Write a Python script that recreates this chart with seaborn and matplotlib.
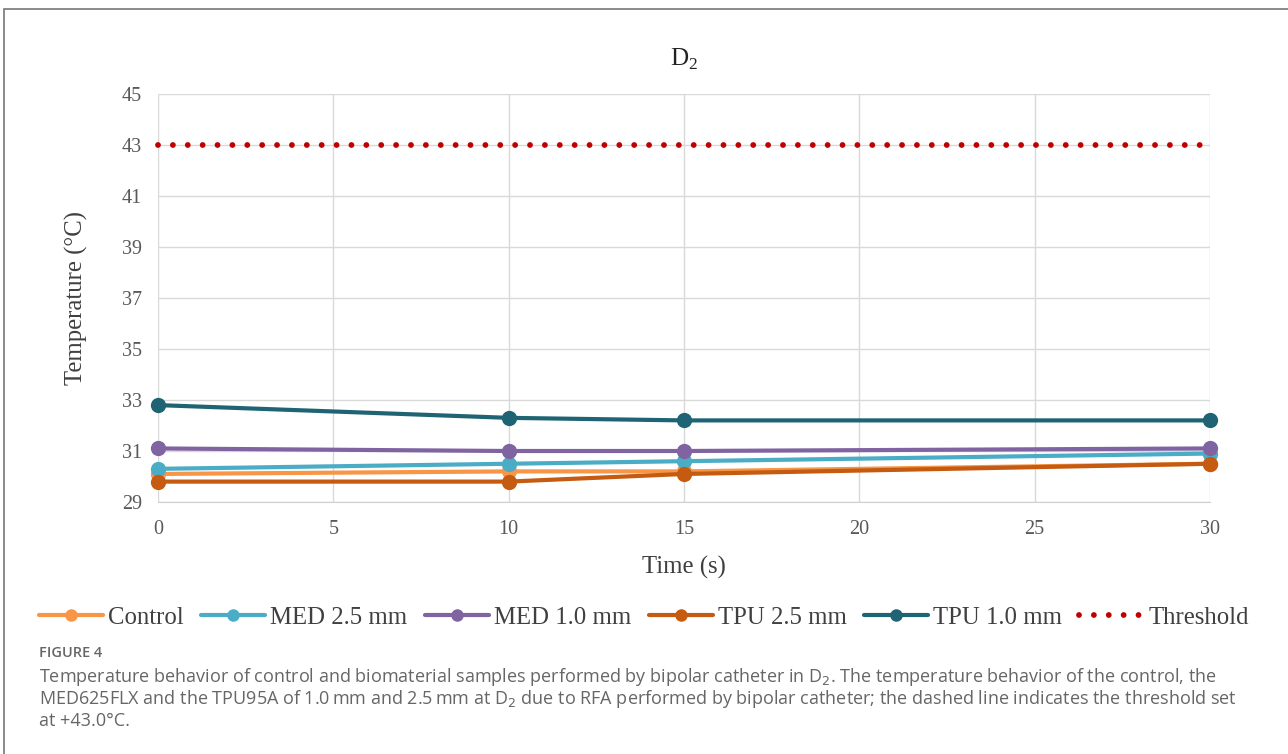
import pandas as pd
import matplotlib.pyplot as plt
from matplotlib.lines import Line2D
from matplotlib.patches import Rectangle
import seaborn as sns

# данные
time_s = [0, 10, 15, 30]
control = [30.1, 30.2, 30.2, 30.5]
med_25 = [30.3, 30.5, 30.6, 30.9]
med_10 = [31.1, 31.0, 31.0, 31.1]
tpu_25 = [29.8, 29.8, 30.1, 30.5]
tpu_10 = [32.8, 32.3, 32.2, 32.2]
threshold_x = [0, 30]
threshold_y = [43.0, 43.0]

series_names = ["Control", "MED 2.5 mm", "MED 1.0 mm", "TPU 2.5 mm", "TPU 1.0 mm"]
series_values = [control, med_25, med_10, tpu_25, tpu_10]
colors = ["#F79646", "#4BACC6", "#8064A2", "#C55A11", "#1F6474"]
thr_color = "#C00000"

df = pd.concat(
    [pd.DataFrame({"time": time_s, "temp": v, "series": n}) for n, v in zip(series_names, series_values)],
    ignore_index=True,
)

sns.set_style("whitegrid")
plt.rcParams["font.family"] = ["Liberation Serif", "DejaVu Serif"]
plt.rcParams["mathtext.fontset"] = "custom"
plt.rcParams["mathtext.rm"] = "Liberation Serif"

fig = plt.figure(figsize=(12.88, 7.54), dpi=100)
ax = fig.add_axes([158 / 1288, 1 - 502 / 754, (1210 - 158) / 1288, (502 - 94) / 754])

sns.lineplot(
    data=df, x="time", y="temp", hue="series", hue_order=series_names,
    palette=colors, marker="o", markersize=11, markeredgewidth=0,
    linewidth=3, ax=ax, legend=False, zorder=3, clip_on=False,
)
ax.plot(threshold_x, threshold_y, color=thr_color, linewidth=4.2,
        linestyle=(0, (0.001, 2.55)), dash_capstyle="round", zorder=3, clip_on=False)

ax.set_xlim(0, 30)
ax.set_ylim(29, 45)
ax.set_xticks(range(0, 31, 5))
ax.set_yticks(range(29, 46, 2))
ax.grid(True, color="#D9D9D9", linewidth=1)
for s in ax.spines.values():
    s.set_visible(False)
ax.spines["bottom"].set_visible(True)
ax.spines["bottom"].set_color("#D0D0D0")
ax.tick_params(axis="both", length=0, labelsize=14.5, labelcolor="#595959")
ax.tick_params(axis="x", pad=13)
ax.tick_params(axis="y", pad=11.5)

ax.set_title("D$_2$", fontsize=18, color="#222222", pad=20)
ax.set_xlabel("Time (s)", fontsize=17.8, color="#404040", labelpad=12)
ax.set_ylabel("Temperature (°C)", fontsize=17.8, color="#404040", labelpad=24)

# легенда
handles = [Line2D([], [], color=c, linewidth=3, marker="o", markersize=9, markeredgewidth=0)
           for c in colors]
handles.append(Line2D([], [], color=thr_color, linewidth=4.2, linestyle=(0, (0.001, 2.55)),
                      dash_capstyle="round"))
fig.legend(handles, series_names + ["Threshold"], loc="center", ncol=6,
           bbox_to_anchor=(0.5, 1 - 618 / 754), frameon=False, fontsize=17.8,
           handlelength=2.6, handletextpad=0.2, columnspacing=0.7,
           labelcolor="#404040")

# подпись к рисунку
cap_font = ["Open Sans", "DejaVu Sans"]
cap_x = 39 / 1288
fig.text(cap_x, 1 - 653 / 754, "FIGURE 4", fontsize=10.5, color="#666666", weight="semibold",
         family=cap_font, va="center")
caption = [
    "Temperature behavior of control and biomaterial samples performed by bipolar catheter in D$_2$. "
    "The temperature behavior of the control, the",
    "MED625FLX and the TPU95A of 1.0\u2009mm and 2.5\u2009mm at D$_2$ due to RFA performed by bipolar catheter; "
    "the dashed line indicates the threshold set",
    "at +43.0°C.",
]
for i, line in enumerate(caption):
    fig.text(cap_x, 1 - (677 + 22 * i) / 754, line, fontsize=13, color="#666666",
             family=cap_font, va="center", math_fontfamily="dejavusans")

fig.patches.append(Rectangle((4 / 1288, -0.02), 1.0, 1 - 9 / 754 + 0.02, transform=fig.transFigure,
                             fill=False, edgecolor="#777777", linewidth=1.2))

fig.savefig("out.png", dpi=100)
